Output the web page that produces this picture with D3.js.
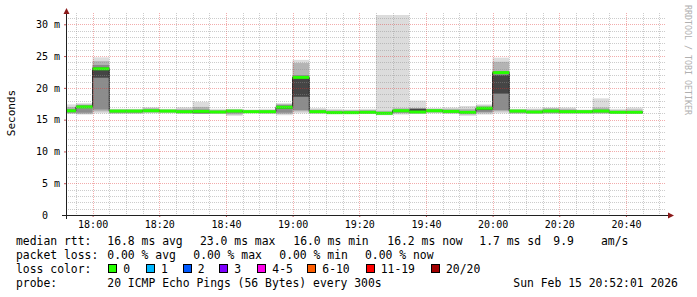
<!DOCTYPE html>
<html>
<head>
<meta charset="utf-8">
<script src="https://cdn.jsdelivr.net/npm/d3@7"></script>
<style>
  body { margin: 0; background: #fff; }
  svg { display: block; }
  text { font-family: "DejaVu Sans Mono", monospace; fill: #000; }
</style>
</head>
<body>
<script>

// 5 minute bins (start time of each bin)
var binTimes = ["17:50","17:55","18:00","18:05","18:10","18:15","18:20","18:25","18:30","18:35",
                "18:40","18:45","18:50","18:55","19:00","19:05","19:10","19:15","19:20","19:25",
                "19:30","19:35","19:40","19:45","19:50","19:55","20:00","20:05","20:10","20:15",
                "20:20","20:25","20:30","20:35","20:40"];

// median rtt per bin (ms)
var median = [16.4,17.0,23.0,16.35,16.35,16.4,16.35,16.25,16.3,16.2,
              16.35,16.25,16.25,16.95,21.65,16.25,16.1,16.1,16.15,16.0,
              16.4,16.2,16.4,16.3,16.15,16.8,22.4,16.35,16.2,16.35,
              16.25,16.25,16.35,16.15,16.15];

// smoke: spread of the 20 pings per bin (ms)
var pMin = [15.9,15.8,16.0,15.9,15.9,16.0,16.0,15.9,15.9,15.9,
            15.6,16.0,15.9,15.7,16.0,15.9,15.9,15.9,15.9,15.7,
            15.8,15.9,16.0,15.9,15.6,15.8,16.0,15.9,15.9,15.9,
            15.9,15.9,15.9,15.9,15.9];
var p10 = [16.0,15.9,16.3,16.0,16.0,16.1,16.1,16.0,16.0,16.0,
           15.8,16.05,16.0,15.9,16.3,16.0,16.0,16.0,16.0,15.8,
           16.0,16.0,16.1,16.0,15.8,16.0,16.3,16.0,16.0,16.0,
           16.0,16.0,16.0,16.0,16.0];
var p25 = [16.1,16.1,16.6,16.1,16.1,16.2,16.2,16.1,16.0,16.1,
           16.0,16.1,16.1,16.1,16.5,16.1,16.05,16.05,16.05,15.9,
           16.1,16.1,16.2,16.1,16.0,16.2,16.5,16.1,16.05,16.1,
           16.1,16.1,16.1,16.05,16.05];
var p45 = [16.3,16.9,21.6,16.2,16.2,16.3,16.3,16.2,16.0,16.15,
           16.2,16.2,16.2,16.7,18.6,16.2,16.1,16.1,16.1,16.0,
           16.3,16.2,16.3,16.2,16.1,16.5,19.1,16.25,16.1,16.2,
           16.2,16.2,16.25,16.1,16.1];
var p55 = [16.5,17.1,23.2,16.4,16.4,16.5,16.4,16.3,16.2,16.3,
           16.4,16.3,16.3,17.1,21.7,16.3,16.2,16.2,16.2,16.1,
           16.5,16.7,16.5,16.4,16.2,16.9,22.0,16.4,16.25,16.4,
           16.3,16.3,16.5,16.2,16.2];
var p75 = [16.7,17.3,23.6,16.5,16.5,16.6,16.5,16.5,16.6,16.4,
           16.5,16.4,16.4,17.3,22.0,16.45,16.3,16.3,16.4,16.2,
           16.6,16.75,16.6,16.5,16.4,17.0,22.6,16.5,16.4,16.6,
           16.5,16.4,16.6,16.3,16.3];
var p90 = [17.0,17.4,24.2,16.6,16.6,16.8,16.6,16.7,17.0,16.5,
           16.6,16.5,16.5,17.45,23.9,16.6,16.5,16.5,16.5,16.4,
           16.8,16.8,16.7,16.7,16.7,17.2,24.1,16.6,16.6,16.8,
           16.7,16.5,16.9,16.5,16.6];
var pMax = [17.4,17.6,24.8,16.7,16.7,16.95,16.7,16.95,17.8,16.7,
            16.7,16.6,16.7,17.6,24.4,16.8,16.7,16.6,16.7,31.5,
            31.5,18.0,16.8,16.9,17.15,17.4,24.75,16.7,16.75,16.9,
            16.9,16.6,18.35,16.7,16.9];

// axes
var yTicks = [0,5,10,15,20,25,30];
var xTickLabels = ["18:00","18:20","18:40","19:00","19:20","19:40","20:00","20:20","20:40"];

// legend
var rowLabels = ["median rtt:","packet loss:","loss color:","probe:"];
var rttStats = ["16.8 ms avg","23.0 ms max","16.0 ms min","16.2 ms now","1.7 ms sd","9.9","am/s"];
var lossStats = ["0.00 % avg","0.00 % max","0.00 % min","0.00 % now"];
var lossLabels = ["0","1","2","3","4-5","6-10","11-19","20/20"];
var lossColors = ["#26ff00","#00b8ff","#0059ff","#7e00ff","#ff00ea","#ff5e00","#ff0000","#a10000"];
var probeText = "20 ICMP Echo Pings (56 Bytes) every 300s";
var dateText = "Sun Feb 15 20:52:01 2026";

// SVG Size
var width = 697,
    height = 297;

var plotLeft = 66, plotRight = 666, plotTop = 15, plotBottom = 215;

function day(hm) {
  var p = hm.split(":");
  return new Date(2026, 1, 15, +p[0], +p[1], p[2] ? +p[2] : 0);
}

var x = d3.scaleTime()
          .domain([day("17:52:01"), day("20:52:01")])
          .range([plotLeft, plotRight]);
var y = d3.scaleLinear()
          .domain([0, 200 / 6.357])
          .range([plotBottom, plotTop]);

var svg = d3.select("body").append("svg")
            .attr("width", width)
            .attr("height", height);

svg.append("defs").append("clipPath")
   .attr("id", "plot")
   .append("rect")
   .attr("x", plotLeft).attr("y", plotTop)
   .attr("width", plotRight - plotLeft).attr("height", plotBottom - plotTop);

var bins = binTimes.map(function(t, i) {
  var s = day(t);
  return { start: s, end: d3.timeMinute.offset(s, 5), i: i };
});

// Smoke, outer layer first
var layers = [
  { lo: pMin, hi: pMax, color: "#dcdcdc" },
  { lo: p10,  hi: p90,  color: "#b4b4b4" },
  { lo: p25,  hi: p75,  color: "#8c8c8c" },
  { lo: p45,  hi: p55,  color: "#454545" }
];

var plot = svg.append("g").attr("clip-path", "url(#plot)");

layers.forEach(function(layer) {
  plot.append("g").selectAll("rect")
      .data(bins)
      .enter()
      .append("rect")
      .attr("x", function(d){ return x(d.start); })
      .attr("width", function(d){ return x(d.end) - x(d.start); })
      .attr("y", function(d){ return y(layer.hi[d.i]); })
      .attr("height", function(d){ return y(layer.lo[d.i]) - y(layer.hi[d.i]); })
      .attr("fill", layer.color);
});

// Grid (semi transparent, on top of the smoke)
var minorGrid = "rgba(143,143,143,0.45)",
    majorGrid = "rgba(222,48,48,0.4)";
var grid = svg.append("g").attr("fill", "none").attr("stroke-dasharray", "1,1");

var vTicks = x.ticks(d3.timeMinute.every(5));
grid.selectAll("line.v")
    .data(vTicks)
    .enter()
    .append("line")
    .attr("x1", function(d){ return Math.round(x(d)) + 0.5; })
    .attr("x2", function(d){ return Math.round(x(d)) + 0.5; })
    .attr("y1", 13)
    .attr("y2", plotBottom)
    .attr("stroke", function(d){ return d.getMinutes() % 20 === 0 ? majorGrid : minorGrid; });

var hTicks = d3.range(1, 32);
grid.selectAll("line.h")
    .data(hTicks)
    .enter()
    .append("line")
    .attr("x1", plotLeft)
    .attr("x2", plotRight)
    .attr("y1", function(d){ return Math.round(y(d)) + 0.5; })
    .attr("y2", function(d){ return Math.round(y(d)) + 0.5; })
    .attr("stroke", function(d){ return d % 5 === 0 ? majorGrid : minorGrid; });

// Median: dark step line, then coloured (loss 0) segments
var stepPoints = bins.map(function(d){ return [x(d.start), y(median[d.i])]; });
stepPoints.push([x(bins[bins.length - 1].end), y(median[bins.length - 1])]);

plot.append("path")
    .attr("d", d3.line().curve(d3.curveStepAfter)(stepPoints))
    .attr("fill", "none")
    .attr("stroke", "#202020")
    .attr("stroke-width", 1);

plot.append("g").selectAll("line")
    .data(bins)
    .enter()
    .append("line")
    .attr("x1", function(d){ return x(d.start); })
    .attr("x2", function(d){ return x(d.end); })
    .attr("y1", function(d){ return y(median[d.i]); })
    .attr("y2", function(d){ return y(median[d.i]); })
    .attr("stroke", lossColors[0])
    .attr("stroke-width", 3);

// Axes
var xAxis = d3.axisBottom(x)
              .tickValues(xTickLabels.map(day))
              .tickSize(2)
              .tickPadding(4)
              .tickFormat(d3.timeFormat("%H:%M"));
var gx = svg.append("g")
   .attr("transform", "translate(0," + plotBottom + ")")
   .call(xAxis);
gx.select(".domain").remove();
gx.selectAll("text").attr("font-size", 10).attr("font-family", null);
gx.selectAll("line").attr("stroke", "#c05050");

var yAxis = d3.axisLeft(y)
              .tickValues(yTicks)
              .tickSize(2)
              .tickPadding(4)
              .tickFormat(function(d){ return d === 0 ? "0\u00a0\u00a0" : d + " m"; });
var gy = svg.append("g")
   .attr("transform", "translate(" + plotLeft + ",0)")
   .call(yAxis);
gy.select(".domain").remove();
gy.selectAll("text").attr("font-size", 10).attr("font-family", null).style("white-space", "pre");
gy.selectAll("line").attr("stroke", "#c05050");

svg.append("line")
   .attr("x1", 62).attr("x2", 670)
   .attr("y1", plotBottom + 0.5).attr("y2", plotBottom + 0.5)
   .attr("stroke", "#202020");
svg.append("line")
   .attr("x1", plotLeft + 0.5).attr("x2", plotLeft + 0.5)
   .attr("y1", 219).attr("y2", 11)
   .attr("stroke", "#202020");

// arrows
svg.append("path")
   .attr("d", "M668,212.5 L674,215.5 L668,218.5 Z")
   .attr("fill", "#8b1a1a");
svg.append("path")
   .attr("d", "M63.5,14 L66.5,8 L69.5,14 Z")
   .attr("fill", "#8b1a1a");

// Y label
svg.append("text")
   .attr("transform", "translate(15,113) rotate(-90)")
   .attr("text-anchor", "middle")
   .attr("font-size", 11)
   .text("Seconds");

// watermark
svg.append("text")
   .attr("transform", "translate(684.5,5) rotate(90)")
   .attr("font-size", 8)
   .attr("textLength", 110)
   .attr("lengthAdjust", "spacingAndGlyphs")
   .style("fill", "#b0b0b0")
   .text("RRDTOOL / TOBI OETIKER");

// Legend
var legend = svg.append("g").attr("font-size", 11.4);
var rowY = [244.5, 258.7, 272.9, 287.1];

legend.selectAll("text.row")
      .data(rowLabels)
      .enter()
      .append("text")
      .attr("x", 16)
      .attr("y", function(d, i){ return rowY[i]; })
      .text(function(d){ return d; });

var rttX = [107.3, 200, 293.3, 387.3, 479.3, 553.3, 601];
legend.selectAll("text.rtt")
      .data(rttStats)
      .enter()
      .append("text")
      .attr("x", function(d, i){ return rttX[i]; })
      .attr("y", rowY[0])
      .text(function(d){ return d; });

var lossX = [107.3, 193.3, 279.3, 365];
legend.selectAll("text.loss")
      .data(lossStats)
      .enter()
      .append("text")
      .attr("x", function(d, i){ return lossX[i]; })
      .attr("y", rowY[1])
      .text(function(d){ return d; });

var boxX = [108.3, 146, 182.7, 219.3, 257.3, 307.3, 365.7, 431];
var keys = legend.selectAll("g.key")
      .data(lossLabels)
      .enter()
      .append("g");
keys.append("rect")
    .attr("x", function(d, i){ return Math.round(boxX[i]) + 0.5; })
    .attr("y", 264.5)
    .attr("width", 8)
    .attr("height", 8)
    .attr("fill", function(d, i){ return lossColors[i]; })
    .attr("stroke", "#000");
keys.append("text")
    .attr("x", function(d, i){ return boxX[i] + 15; })
    .attr("y", rowY[2])
    .text(function(d){ return d; });

legend.append("text").attr("x", 107.3).attr("y", rowY[3]).text(probeText);
legend.append("text").attr("x", 513.3).attr("y", rowY[3]).text(dateText);

</script>
</body>
</html>
